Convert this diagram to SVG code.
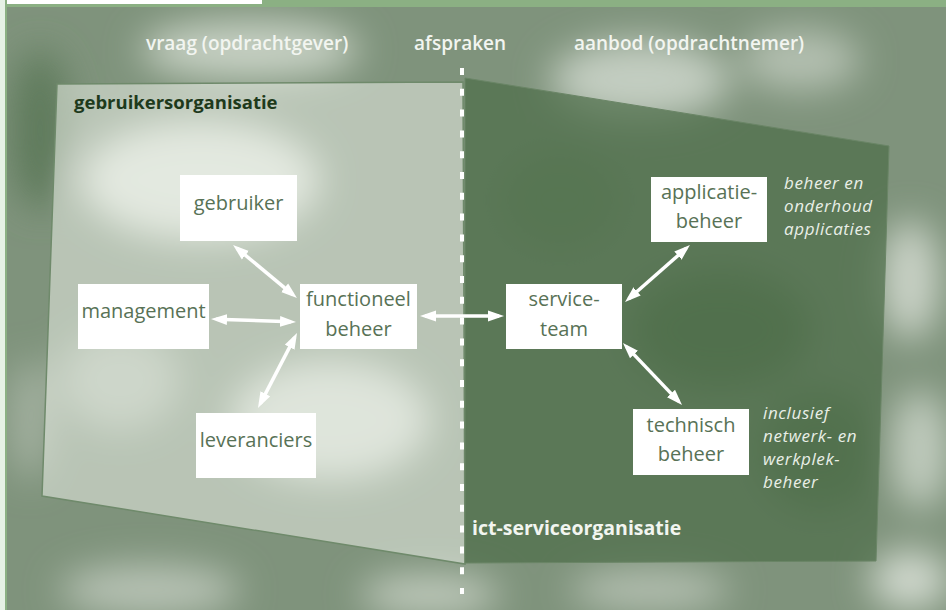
<svg xmlns="http://www.w3.org/2000/svg" width="946" height="610" viewBox="0 0 946 610">
<defs>
<style>
.hdr{font-family:"Open Sans","Liberation Sans",sans-serif;font-weight:600;font-size:19px;fill:#f2f5f0}
.box{fill:#ffffff}
.nt{font-family:"Open Sans","Liberation Sans",sans-serif;font-size:20px;fill:#587256;text-anchor:middle}
.note{font-family:"Open Sans","Liberation Sans",sans-serif;font-style:italic;font-size:17px;letter-spacing:0.6px;fill:#e9efe7}
.conn{stroke:#ffffff;stroke-width:3.5;fill:none;marker-start:url(#ah);marker-end:url(#ah)}
</style>
<filter id="blur" x="-20%" y="-20%" width="140%" height="140%"><feGaussianBlur stdDeviation="18"/></filter>
<marker id="ah" markerUnits="userSpaceOnUse" markerWidth="18" markerHeight="13" refX="11" refY="6" orient="auto-start-reverse">
<path d="M0,0.5 L16,6 L0,11.5 z" fill="#ffffff"/>
</marker>
</defs>

<!-- background -->
<rect x="0" y="0" width="946" height="610" fill="#7f937c"/>
<g filter="url(#blur)">
<ellipse cx="250" cy="50" rx="110" ry="30" fill="#c6d0c3"/>
<ellipse cx="640" cy="80" rx="90" ry="40" fill="#c3cdc1"/>
<ellipse cx="800" cy="60" rx="60" ry="30" fill="#b4c0b1"/>
<ellipse cx="40" cy="130" rx="30" ry="80" fill="#5e7a5b"/>
<ellipse cx="910" cy="280" rx="30" ry="60" fill="#c9d2c6"/>
<ellipse cx="920" cy="450" rx="30" ry="60" fill="#c0cbbd"/>
<ellipse cx="910" cy="580" rx="40" ry="30" fill="#d0d8cd"/>
<ellipse cx="150" cy="590" rx="90" ry="25" fill="#b8c3b5"/>
<ellipse cx="430" cy="595" rx="70" ry="20" fill="#c2ccbf"/>
<ellipse cx="650" cy="590" rx="80" ry="20" fill="#b6c1b3"/>
<ellipse cx="30" cy="420" rx="20" ry="60" fill="#a5b2a2"/>
<ellipse cx="200" cy="180" rx="120" ry="60" fill="#dfe5dc"/>
<ellipse cx="330" cy="420" rx="100" ry="60" fill="#d4dcd1"/>
<ellipse cx="120" cy="380" rx="60" ry="50" fill="#aebbab"/>
<ellipse cx="560" cy="200" rx="60" ry="50" fill="#6f8b6b"/>
<ellipse cx="720" cy="330" rx="90" ry="60" fill="#5b7857"/>
<ellipse cx="820" cy="450" rx="60" ry="60" fill="#5e7c5a"/>
</g>

<!-- frame -->
<rect x="0" y="0" width="946" height="7" fill="#8bb083"/>
<rect x="7" y="0" width="255" height="4" fill="#ffffff"/>
<rect x="0" y="0" width="5" height="610" fill="#e6f1e5"/>
<rect x="5" y="7" width="2" height="603" fill="#8bb083"/>

<!-- panels -->
<g id="gebruikersorganisatie">
<polygon points="57,84 463,82 465,564 42,496" fill="#e6ece3" fill-opacity="0.56" stroke="#6f8a6b" stroke-width="1.5"/>
<text class="hdr" x="74" y="109" style="fill:#1e3a1c;font-weight:700;font-size:18.5px">gebruikersorganisatie</text>
</g>
<g id="ict-serviceorganisatie">
<polygon points="465,78 889,146 876,561 465,563" fill="#4e6d4a" fill-opacity="0.72" stroke="#6a8566" stroke-width="1"/>
<text class="hdr" x="472" y="535" style="font-weight:700;font-size:19.5px">ict-serviceorganisatie</text>
</g>

<!-- divider -->
<line x1="462" y1="68" x2="462" y2="594" stroke="#ffffff" stroke-width="4" stroke-dasharray="7 13.8"/>

<!-- headers -->
<text class="hdr" x="146" y="50">vraag (opdrachtgever)</text>
<text class="hdr" x="414" y="50">afspraken</text>
<text class="hdr" x="574" y="50">aanbod (opdrachtnemer)</text>

<!-- connectors -->
<g id="connectors">
<line class="conn" x1="236.9" y1="248.2" x2="293.1" y2="294.8"/>
<line class="conn" x1="216" y1="319.2" x2="291" y2="321.8"/>
<line class="conn" x1="260.3" y1="403.6" x2="294.7" y2="337.4"/>
<line class="conn" x1="425" y1="316" x2="499" y2="316"/>
<line class="conn" x1="628.8" y1="298.7" x2="686.2" y2="248.3"/>
<line class="conn" x1="626.4" y1="346.6" x2="678.6" y2="401.4"/>
</g>

<!-- nodes -->
<g id="gebruiker"><rect class="box" x="180" y="175" width="117" height="66"/><text class="nt" x="238.5" y="210">gebruiker</text></g>
<g id="management"><rect class="box" x="78" y="284" width="131" height="65"/><text class="nt" x="143.5" y="318">management</text></g>
<g id="functioneel-beheer"><rect class="box" x="300" y="284" width="117" height="65"/><text class="nt" x="358.5" y="306">functioneel</text><text class="nt" x="358.5" y="336">beheer</text></g>
<g id="leveranciers"><rect class="box" x="196" y="413" width="120" height="65"/><text class="nt" x="256" y="447">leveranciers</text></g>
<g id="service-team"><rect class="box" x="506" y="284" width="116" height="65"/><text class="nt" x="564" y="306">service-</text><text class="nt" x="564" y="336">team</text></g>
<g id="applicatie-beheer"><rect class="box" x="651" y="177" width="116" height="65"/><text class="nt" x="709" y="199">applicatie-</text><text class="nt" x="709" y="228">beheer</text></g>
<g id="technisch-beheer"><rect class="box" x="633" y="409" width="116" height="66"/><text class="nt" x="691" y="432">technisch</text><text class="nt" x="691" y="461">beheer</text></g>

<!-- notes -->
<g id="note-applicatie">
<text class="note" x="784" y="189">beheer en</text>
<text class="note" x="784" y="212">onderhoud</text>
<text class="note" x="784" y="235">applicaties</text>
</g>
<g id="note-technisch">
<text class="note" x="763" y="419">inclusief</text>
<text class="note" x="763" y="442">netwerk- en</text>
<text class="note" x="763" y="465">werkplek-</text>
<text class="note" x="763" y="488">beheer</text>
</g>
</svg>
